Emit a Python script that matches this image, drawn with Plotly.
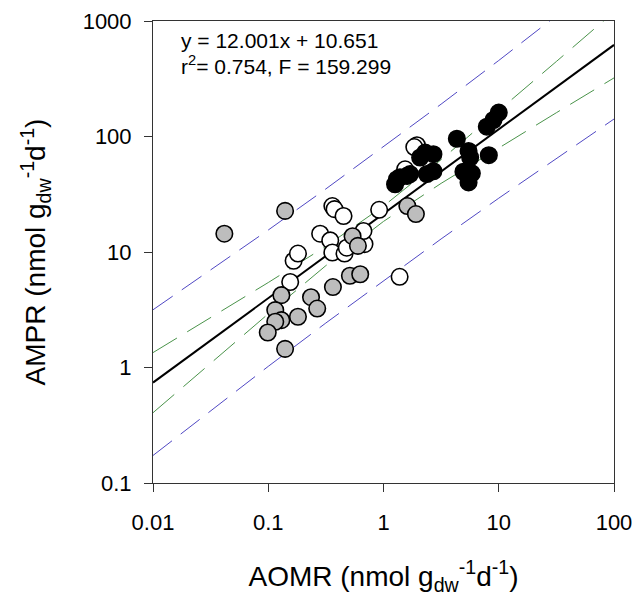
import plotly.graph_objects as go

# ---- data ----
gray_x = [0.0416, 0.14, 0.13, 0.115, 0.13, 0.115, 0.099, 0.14, 0.181, 0.235,
          0.266, 0.364, 0.511, 0.628, 0.539, 0.60, 1.61, 1.91]
gray_y = [14.4, 22.7, 4.23, 3.14, 2.57, 2.49, 2.01, 1.45, 2.75, 4.06,
          3.24, 4.97, 6.23, 6.42, 13.7, 11.3, 25.0, 21.3]

white_x = [0.155, 0.166, 0.181, 0.282, 0.345, 0.36, 0.459, 0.48, 0.684, 0.67,
           0.36, 0.376, 0.45, 0.917, 1.38, 1.95, 1.85, 1.54]
white_y = [5.5, 8.4, 9.7, 14.4, 12.6, 9.9, 9.7, 10.9, 11.7, 15.2,
           25.0, 23.5, 20.5, 23.2, 6.1, 84.0, 81.0, 52.0]

black_x = [1.31, 1.26, 1.39, 1.60, 1.70, 2.08, 2.30, 2.71, 2.38, 2.71,
           4.33, 5.47, 5.65, 8.2, 4.94, 5.84, 5.47, 7.88, 9.0, 10.0]
black_y = [42.7, 38.6, 44.4, 45.6, 47.3, 65.8, 72.6, 70.3, 47.3, 50.0,
           95.6, 75.0, 65.8, 68.9, 49.5, 48.0, 40.0, 121.6, 139.0, 161.0]

# regression line and bands, sampled at half-decade steps of x
band_x = [0.01, 0.0316, 0.1, 0.316, 1, 3.16, 10, 31.6, 100]
fit_y = [0.740, 1.716, 3.98, 9.24, 21.4, 49.7, 115.3, 267.6, 620.9]
conf_hi = [1.346, 2.698, 5.44, 11.2, 24.96, 62.96, 166.5, 445.9, 1199]
conf_lo = [0.406, 1.091, 2.913, 7.617, 18.40, 39.27, 79.9, 160.6, 321.6]
pred_hi = [3.16, 6.94, 15.50, 35.16, 81.2, 190.5, 455.2, 1105, 2720]
pred_lo = [0.1731, 0.4240, 1.023, 2.427, 5.656, 12.97, 29.23, 64.8, 141.7]

x_ticks = [0.01, 0.1, 1, 10, 100]
x_tick_text = ["0.01", "0.1", "1", "10", "100"]
y_ticks = [0.1, 1, 10, 100, 1000]
y_tick_text = ["0.1", "1", "10", "100", "1000"]

eq_line1 = "y = 12.001x + 10.651"
eq_line2 = "r<sup>2</sup>= 0.754, F = 159.299"
x_title = "AOMR (nmol g<sub>dw</sub><sup>-1</sup>d<sup>-1</sup>)"
y_title = "AMPR (nmol g<sub>dw</sub><sup>-1</sup>d<sup>-1</sup>)"

FONT = "Liberation Sans, Arial, sans-serif"
BLUE = "#5048c4"
GREEN = "#4a934a"

fig = go.Figure()

for yy in (pred_hi, pred_lo):
    fig.add_trace(go.Scatter(x=band_x, y=yy, mode="lines",
                             line=dict(color=BLUE, width=1, dash="24px,11px"),
                             hoverinfo="skip"))
for yy in (conf_hi, conf_lo):
    fig.add_trace(go.Scatter(x=band_x, y=yy, mode="lines",
                             line=dict(color=GREEN, width=1, dash="28px,12px"),
                             hoverinfo="skip"))
fig.add_trace(go.Scatter(x=band_x, y=fit_y, mode="lines",
                         line=dict(color="black", width=2)))

mk = dict(size=16.5, line=dict(color="black", width=1.6))
fig.add_trace(go.Scatter(x=white_x, y=white_y, mode="markers",
                         marker=dict(color="white", **mk)))
fig.add_trace(go.Scatter(x=gray_x, y=gray_y, mode="markers",
                         marker=dict(color="#bdbdbd", **mk)))
fig.add_trace(go.Scatter(x=black_x, y=black_y, mode="markers",
                         marker=dict(color="black", **mk)))

axis_common = dict(
    type="log", showgrid=False, zeroline=False, automargin=False,
    showline=True, linecolor="#333333", linewidth=1, mirror=True,
    ticks="outside", ticklen=8, tickcolor="#333333", tickwidth=1,
    tickfont=dict(family=FONT, size=22, color="black"),
)

fig.update_layout(
    width=636, height=596,
    margin=dict(l=153, r=22, t=21, b=113, autoexpand=False),
    paper_bgcolor="white", plot_bgcolor="white",
    showlegend=False,
    font=dict(family=FONT, color="black"),
    xaxis=dict(range=[-2, 2], tickvals=x_ticks, ticktext=x_tick_text,
               ticklabelstandoff=12,
               title=dict(text=x_title,
                          font=dict(family=FONT, size=28, color="black"),
                          standoff=34),
               **axis_common),
    yaxis=dict(range=[-1, 3], tickvals=y_ticks, ticktext=y_tick_text,
               ticklabelstandoff=8,
               title=dict(text=y_title,
                          font=dict(family=FONT, size=28, color="black"),
                          standoff=28),
               **axis_common),
    annotations=[
        dict(text=eq_line1, xref="paper", yref="paper", x=0.057, y=0.957,
             xanchor="left", yanchor="middle", showarrow=False,
             font=dict(family=FONT, size=21, color="black")),
        dict(text=eq_line2, xref="paper", yref="paper", x=0.057, y=0.905,
             xanchor="left", yanchor="middle", showarrow=False,
             font=dict(family=FONT, size=21, color="black")),
    ],
)

fig.write_html("out.html")
